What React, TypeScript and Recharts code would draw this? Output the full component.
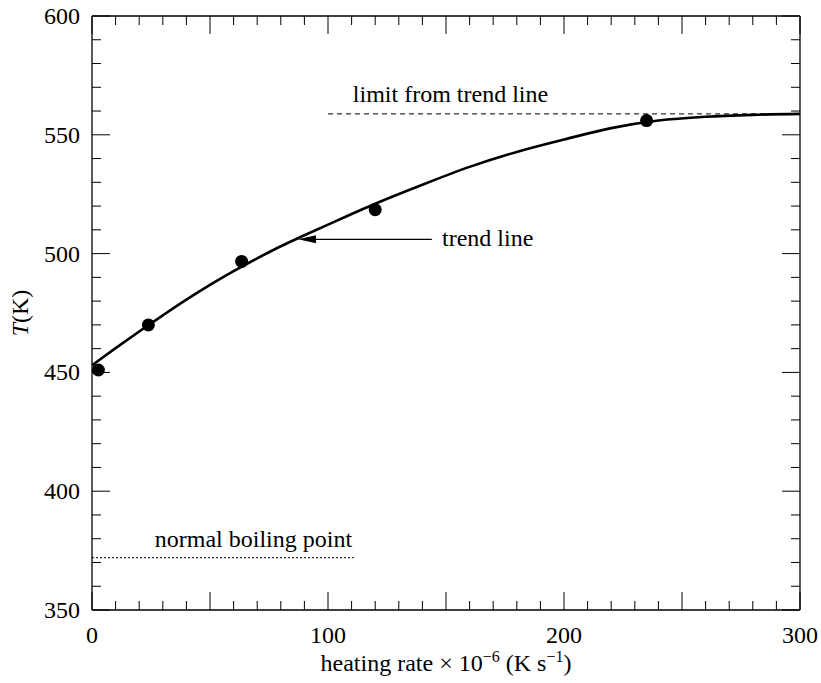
import React from "react";
import {
  ComposedChart,
  Line,
  Scatter,
  XAxis,
  YAxis,
  ReferenceLine,
  ReferenceDot,
} from "recharts";

// measured data points (heating rate ×10^-6 K/s, T in K)
const rateValues = [2.7, 23.9, 63.4, 120, 235];
const tempValues = [451, 470, 496.7, 518.5, 556];

// trend line
const trendRates = [0, 10, 20, 30, 40, 50, 60, 70, 80, 90, 100, 120, 140, 160, 180, 200, 220, 240, 260, 280, 300];
const trendTemps = [453, 460.2, 467.2, 474, 480.6, 486.8, 492.6, 498, 503.1, 507.7, 512.2, 521, 529, 536.5, 542.8, 548, 552.8, 556, 557.6, 558.4, 558.8];

const xTicks = Array.from({ length: 31 }, (_, i) => i * 10);
const yTicks = Array.from({ length: 26 }, (_, i) => 350 + i * 10);
const xLabelTicks = [0, 100, 200, 300];
const yLabelTicks = [350, 400, 450, 500, 550, 600];

const limitT = 558.8;
const boilingT = 372;

const points = rateValues.map((r, i) => ({ rate: r, T: tempValues[i] }));
const trend = trendRates.map((r, i) => ({ rate: r, T: trendTemps[i] }));

const FONT = '"Liberation Serif", "Times New Roman", Times, serif';
const textStyle: React.CSSProperties = { fontFamily: FONT, fontSize: 24 };

const tickLen = (v: number) => (v % 50 === 0 ? 18 : 9);

const BottomTick = (p: any) => {
  const v = p.payload.value;
  return (
    <g>
      <line x1={p.x} y1={p.y} x2={p.x} y2={p.y - tickLen(v)} stroke="#000" strokeWidth={1} />
      {xLabelTicks.includes(v) && (
        <text x={p.x} y={p.y + 33} textAnchor="middle" fontFamily={FONT} style={textStyle} fill="#000">
          {v}
        </text>
      )}
    </g>
  );
};

const TopTick = (p: any) => {
  const v = p.payload.value;
  return <line x1={p.x} y1={p.y} x2={p.x} y2={p.y + tickLen(v)} stroke="#000" strokeWidth={1} />;
};

const LeftTick = (p: any) => {
  const v = p.payload.value;
  return (
    <g>
      <line x1={p.x} y1={p.y} x2={p.x + tickLen(v)} y2={p.y} stroke="#000" strokeWidth={1} />
      {yLabelTicks.includes(v) && (
        <text x={p.x - 12} y={p.y + 8} textAnchor="end" fontFamily={FONT} style={textStyle} fill="#000">
          {v}
        </text>
      )}
    </g>
  );
};

const RightTick = (p: any) => {
  const v = p.payload.value;
  return <line x1={p.x} y1={p.y} x2={p.x - tickLen(v)} y2={p.y} stroke="#000" strokeWidth={1} />;
};

const XTitle = (props: any) => {
  const vb = props.viewBox;
  const cx = vb.x + vb.width / 2;
  return (
    <text x={cx} y={671} textAnchor="middle" fontFamily={FONT} style={textStyle} fill="#000">
      <tspan>heating rate × 10</tspan>
      <tspan dy={-9} style={{ fontSize: 16 }}>−6</tspan>
      <tspan dy={9}> (K s</tspan>
      <tspan dy={-9} style={{ fontSize: 16 }}>−1</tspan>
      <tspan dy={9}>)</tspan>
    </text>
  );
};

const YTitle = (props: any) => {
  const vb = props.viewBox;
  const cy = vb.y + vb.height / 2;
  const x = 28;
  return (
    <text x={x} y={cy} textAnchor="middle" fontFamily={FONT} style={textStyle} fill="#000" transform={`rotate(-90, ${x}, ${cy})`}>
      <tspan style={{ fontStyle: "italic" }}>T</tspan>
      <tspan>(K)</tspan>
    </text>
  );
};

const Dot = (p: any) => <circle cx={p.cx} cy={p.cy} r={6.5} fill="#000" />;

const makeText = (text: string, anchor: "start" | "middle") => (p: any) => (
  <text x={p.cx} y={p.cy} textAnchor={anchor} fontFamily={FONT} style={textStyle} fill="#000">
    {text}
  </text>
);

const ArrowShape = (p: any) => {
  const { x1, y1, x2, y2 } = p;
  const tipX = Math.min(x1, x2);
  const tailX = Math.max(x1, x2);
  const y = y1;
  return (
    <g>
      <line x1={tipX + 10} y1={y} x2={tailX} y2={y2} stroke="#000" strokeWidth={1.3} />
      <polygon points={`${tipX},${y} ${tipX + 18},${y - 4} ${tipX + 18},${y + 4}`} fill="#000" />
    </g>
  );
};

export default function App() {
  return (
    <div style={{ position: "absolute", left: 0, top: 0, width: 821, height: 683, background: "#fff", fontFamily: FONT }}>
      <ComposedChart width={821} height={683} margin={{ top: 15, right: 20, bottom: 0, left: 0 }}>
        <XAxis
          xAxisId="b"
          dataKey="rate"
          type="number"
          domain={[0, 300]}
          ticks={xTicks}
          interval={0}
          tickSize={0}
          tickMargin={0}
          tickLine={false}
          axisLine={{ stroke: "#000", strokeWidth: 1.3 }}
          tick={<BottomTick />}
          height={73}
          allowDataOverflow
          label={<XTitle />}
        />
        <XAxis
          xAxisId="t"
          orientation="top"
          dataKey="rate"
          type="number"
          domain={[0, 300]}
          ticks={xTicks}
          interval={0}
          tickSize={0}
          tickMargin={0}
          tickLine={false}
          axisLine={{ stroke: "#000", strokeWidth: 1.3 }}
          tick={<TopTick />}
          height={1}
          allowDataOverflow
        />
        <YAxis
          yAxisId="l"
          type="number"
          domain={[350, 600]}
          ticks={yTicks}
          interval={0}
          tickSize={0}
          tickMargin={0}
          tickLine={false}
          axisLine={{ stroke: "#000", strokeWidth: 1.3 }}
          tick={<LeftTick />}
          width={92}
          allowDataOverflow
          label={<YTitle />}
        />
        <YAxis
          yAxisId="r"
          orientation="right"
          type="number"
          domain={[350, 600]}
          ticks={yTicks}
          interval={0}
          tickSize={0}
          tickMargin={0}
          tickLine={false}
          axisLine={{ stroke: "#000", strokeWidth: 1.3 }}
          tick={<RightTick />}
          width={1}
          allowDataOverflow
        />
        <ReferenceLine
          xAxisId="b"
          yAxisId="l"
          segment={[{ x: 0, y: boilingT }, { x: 111, y: boilingT }]}
          stroke="#000"
          strokeWidth={1}
          strokeDasharray="2 2"
        />
        <ReferenceLine
          xAxisId="b"
          yAxisId="l"
          segment={[{ x: 100, y: limitT }, { x: 300, y: limitT }]}
          stroke="#000"
          strokeWidth={1}
          strokeDasharray="5 4"
        />
        <ReferenceLine
          xAxisId="b"
          yAxisId="l"
          segment={[{ x: 87.3, y: 506 }, { x: 144, y: 506 }]}
          shape={<ArrowShape />}
        />
        {/* invisible companion series so the mirrored top/right axes are drawn */}
        <Line
          xAxisId="t"
          yAxisId="r"
          data={trend}
          dataKey="T"
          stroke="none"
          dot={false}
          activeDot={false}
          legendType="none"
          isAnimationActive={false}
        />
        <Line
          xAxisId="b"
          yAxisId="l"
          data={trend}
          dataKey="T"
          type="monotone"
          stroke="#000"
          strokeWidth={2.6}
          dot={false}
          activeDot={false}
          isAnimationActive={false}
        />
        <Scatter
          xAxisId="b"
          yAxisId="l"
          data={points}
          dataKey="T"
          shape={<Dot />}
          isAnimationActive={false}
        />
        <ReferenceDot xAxisId="b" yAxisId="l" x={68.4} y={376.5} r={0} shape={makeText("normal boiling point", "middle")} />
        <ReferenceDot xAxisId="b" yAxisId="l" x={151.9} y={563.6} r={0} shape={makeText("limit from trend line", "middle")} />
        <ReferenceDot xAxisId="b" yAxisId="l" x={148.3} y={503.3} r={0} shape={makeText("trend line", "start")} />
      </ComposedChart>
    </div>
  );
}
